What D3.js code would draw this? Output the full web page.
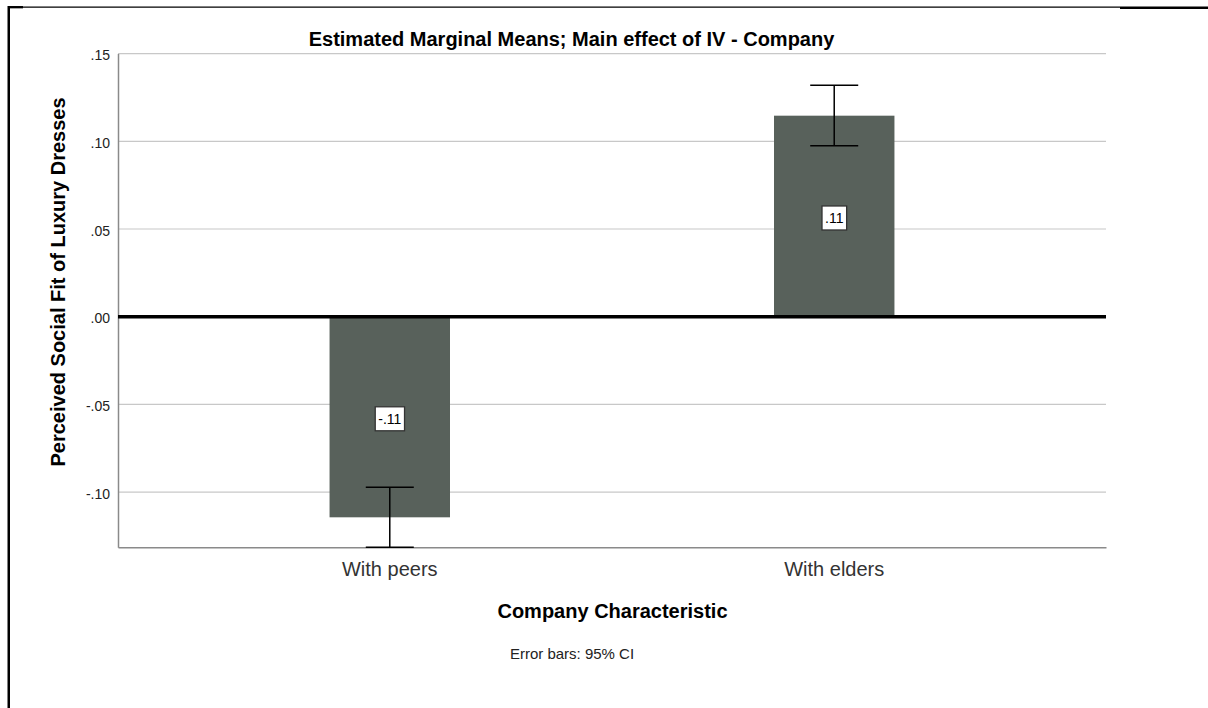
<!DOCTYPE html>
<html>
<head>
<meta charset="utf-8">
<script src="https://cdn.jsdelivr.net/npm/d3@7"></script>
<style>
  html, body { margin: 0; padding: 0; background: #fff; }
  svg { display: block; font-family: "Liberation Sans", Arial, sans-serif; }
</style>
</head>
<body>
<script>
// ---- data ----
const categories = ["With peers", "With elders"];
const means = [-0.1144, 0.1146];
const ciLower = [-0.1315, 0.0975];
const ciUpper = [-0.0973, 0.1319];
const barLabels = ["-.11", ".11"];
const yTicks = [-0.10, -0.05, 0.00, 0.05, 0.10, 0.15];
const yDomain = [-0.1315, 0.15];
const titleText = "Estimated Marginal Means; Main effect of IV - Company";
const yTitle = "Perceived Social Fit of Luxury Dresses";
const xTitle = "Company Characteristic";
const footnote = "Error bars: 95% CI";

// ---- layout ----
const W = 1208, H = 708;
const plot = { left: 118, right: 1106, top: 53.6, bottom: 547.3 };

const svg = d3.select("body").append("svg").attr("width", W).attr("height", H);

const x = d3.scaleBand().domain(categories)
  .range([plot.left, plot.right])
  .paddingInner(0.729).paddingOuter(0.476);
const y = d3.scaleLinear().domain(yDomain).range([plot.bottom, plot.top]);

// frame (cropped screenshot border)
svg.append("line").attr("x1", 8.75).attr("x2", 8.75).attr("y1", 6).attr("y2", H)
  .attr("stroke", "#000").attr("stroke-width", 2.5);
svg.append("line").attr("x1", 8).attr("x2", 23).attr("y1", 7.2).attr("y2", 7.2)
  .attr("stroke", "#000").attr("stroke-width", 2.3);
svg.append("line").attr("x1", 8).attr("x2", 1120).attr("y1", 7.2).attr("y2", 7.2)
  .attr("stroke", "#000").attr("stroke-width", 1.2);
svg.append("line").attr("x1", 1120).attr("x2", W).attr("y1", 7.8).attr("y2", 7.8)
  .attr("stroke", "#000").attr("stroke-width", 2.4);

// gridlines
svg.append("g").selectAll("line").data(yTicks.filter(d => d !== 0)).join("line")
  .attr("x1", plot.left).attr("x2", plot.right)
  .attr("y1", d => y(d)).attr("y2", d => y(d))
  .attr("stroke", "#c8c8c8").attr("stroke-width", 1.2);

// y axis with tick labels (no tick marks), ASCII hyphen for negatives
const fmt = d => d3.format(".2f")(d).replace("\u2212", "-").replace(/^(-?)0\./, "$1.");
const yAxis = svg.append("g").attr("transform", `translate(${plot.left},0)`)
  .call(d3.axisLeft(y).tickValues(yTicks).tickFormat(fmt).tickSize(0).tickPadding(8));
yAxis.select(".domain").attr("stroke", "#8a8a8a").attr("stroke-width", 1.5);
yAxis.selectAll("text").attr("font-size", 14).attr("fill", "#222")
  .attr("font-family", "Liberation Sans, Arial, sans-serif").attr("dy", "0.45em");

// x axis baseline
const xAxis = svg.append("g").attr("transform", `translate(0,${plot.bottom})`)
  .call(d3.axisBottom(x).tickSize(0).tickPadding(15));
xAxis.select(".domain").attr("stroke", "#8a8a8a").attr("stroke-width", 1.5);
xAxis.selectAll("text").attr("font-size", 20).attr("fill", "#333")
  .attr("font-family", "Liberation Sans, Arial, sans-serif");

// bars
svg.append("g").selectAll("rect").data(categories).join("rect")
  .attr("x", d => x(d))
  .attr("width", x.bandwidth())
  .attr("y", (d, i) => y(Math.max(0, means[i])))
  .attr("height", (d, i) => Math.abs(y(means[i]) - y(0)))
  .attr("fill", "#58615b");

// zero reference line
svg.append("line").attr("x1", plot.left).attr("x2", plot.right)
  .attr("y1", y(0)).attr("y2", y(0))
  .attr("stroke", "#000").attr("stroke-width", 3.5);

// error bars
const capW = 48;
const eb = svg.append("g").attr("stroke", "#000").attr("stroke-width", 1.5);
categories.forEach((c, i) => {
  const cx = x(c) + x.bandwidth() / 2;
  eb.append("line").attr("x1", cx).attr("x2", cx).attr("y1", y(ciLower[i])).attr("y2", y(ciUpper[i]));
  eb.append("line").attr("x1", cx - capW / 2).attr("x2", cx + capW / 2).attr("y1", y(ciLower[i])).attr("y2", y(ciLower[i]));
  eb.append("line").attr("x1", cx - capW / 2).attr("x2", cx + capW / 2).attr("y1", y(ciUpper[i])).attr("y2", y(ciUpper[i]));
});

// value labels in boxes
categories.forEach((c, i) => {
  const cx = x(c) + x.bandwidth() / 2;
  const cy = (y(means[i]) + y(0)) / 2 + 1.8;
  const g = svg.append("g");
  const t = g.append("text").attr("x", cx).attr("y", cy).attr("dy", "0.36em")
    .attr("text-anchor", "middle").attr("font-size", 14).attr("fill", "#000").text(barLabels[i]);
  const bb = t.node().getBBox();
  g.insert("rect", "text").attr("x", bb.x - 3).attr("y", cy - 12)
    .attr("width", bb.width + 6).attr("height", 24)
    .attr("fill", "#fff").attr("stroke", "#333").attr("stroke-width", 1.3);
});

// titles
svg.append("text").attr("x", 571.5).attr("y", 46).attr("text-anchor", "middle")
  .attr("font-size", 20).attr("font-weight", "bold").attr("fill", "#000").text(titleText);
svg.append("text").attr("transform", "translate(65,282) rotate(-90)").attr("text-anchor", "middle")
  .attr("font-size", 20).attr("font-weight", "bold").attr("fill", "#000").text(yTitle);
svg.append("text").attr("x", 612.5).attr("y", 618).attr("text-anchor", "middle")
  .attr("font-size", 20).attr("font-weight", "bold").attr("fill", "#000").text(xTitle);
svg.append("text").attr("x", 572).attr("y", 659).attr("text-anchor", "middle")
  .attr("font-size", 15).attr("fill", "#222").text(footnote);
</script>
</body>
</html>
